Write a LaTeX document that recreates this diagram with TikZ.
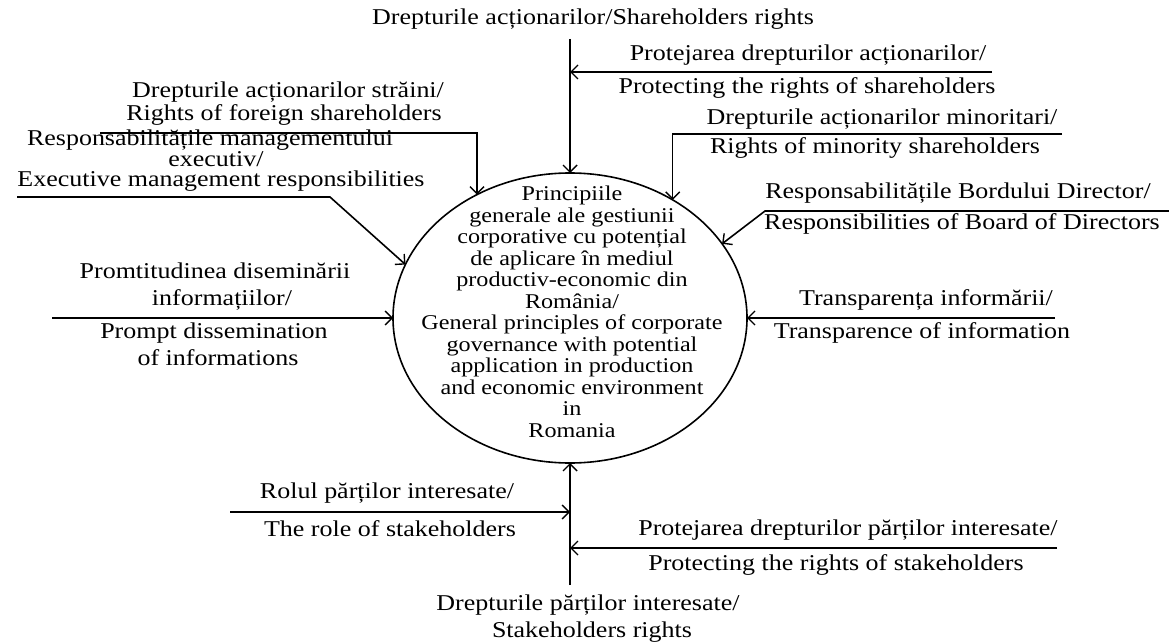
\documentclass[tikz,border=0pt]{standalone}
\usepackage{fontspec}
\setmainfont{Liberation Serif}[FakeStretch=1.15]
\usetikzlibrary{shapes.geometric,arrows.meta}
\begin{document}
\begin{tikzpicture}[x=1pt,y=-1pt,
  lbl/.style={font=\fontsize{22.6}{21}\selectfont, inner sep=0pt},
  ln/.style={line width=1.6pt},
  thk/.style={line width=2.6pt},
  arr/.style={-{Straight Barb[length=7pt,width=14pt,line width=1.4pt]}},
]
\useasboundingbox (0,0) rectangle (1169,644);

% central ellipse
\node[draw, ellipse, ln, minimum width=354pt, minimum height=290pt, inner sep=0pt, outer sep=0pt] (c) at (570,318) {};
\node[align=center, inner sep=0pt, font=\fontsize{21}{21.5}\selectfont] (ct) at (572,312) {Principiile\\generale ale gestiunii\\corporative  cu potențial\\de aplicare în mediul\\productiv-economic din\\România/\\General principles of corporate\\governance with potential\\application in production\\and economic environment\\in\\Romania};

% top
\node[lbl] (tt) at (593,19) {Drepturile acționarilor/Shareholders rights};
\coordinate (topS) at (570,39);
\draw[thk,arr] (topS) -- (c.north);

\node[lbl] (pa1) at (808,55) {Protejarea drepturilor acționarilor/};
\node[lbl] (pa2) at (807,88) {Protecting the rights of shareholders};
\coordinate (paS) at (992,72);
\draw[ln,arr] (paS) -- (paS -| c.north);

% foreign
\node[lbl] (f1) at (288,92) {Drepturile acționarilor străini/};
\node[lbl] (f2) at (284,115) {Rights of foreign shareholders};
\coordinate (fS) at (100,133);
\draw[ln,arr] (fS) -| (c.127);

% executive
\node[lbl, align=center, font=\fontsize{22.6}{20.5}\selectfont] (e1) at (216,161)
  {Responsabilitățile managementului\hspace*{12pt}\\executiv/\hspace*{56pt}\\\hspace*{10pt}Executive management responsibilities};
\coordinate (eS) at (17,197);
\coordinate (eB) at (330,197);
\draw[ln,arr] (eS) -- (eB) -- (c.162);

% prompt
\node[lbl] (p1) at (215,271) {Promtitudinea diseminării};
\node[lbl] (p2) at (222,300) {informațiilor/};
\node[lbl] (p3) at (214,333) {Prompt dissemination};
\node[lbl] (p4) at (218,358) {of informations};
\coordinate (pS) at (52,318);
\draw[thk,arr] (pS) -- (c.west);

% minority
\node[lbl] (m1) at (882,119) {Drepturile acționarilor minoritari/};
\node[lbl] (m2) at (875,148) {Rights of minority shareholders};
\coordinate (mS) at (1062,134);
\draw[ln,arr] (mS) -| (c.49);

% board
\node[lbl] (b1) at (958,193) {Responsabilitățile Bordului Director/};
\node[lbl] (b2) at (962,224) {Responsibilities of Board of Directors};
\coordinate (bS) at (1169,211);
\coordinate (bB) at (765,211);
\draw[ln,arr] (bS) -- (bB) -- (c.26);

% transparency
\node[lbl] (t1) at (926,300) {Transparența informării/};
\node[lbl] (t2) at (922,333) {Transparence of information};
\coordinate (tS) at (1055,318);
\draw[ln,arr] (tS) -- (c.east);

% role of stakeholders
\node[lbl] (r1) at (387,493) {Rolul părților interesate/};
\node[lbl] (r2) at (390,529) {The role of stakeholders};
\coordinate (rS) at (230,512);
\draw[ln,arr] (rS) -- (rS -| c.south);

% protecting stakeholders
\node[lbl] (ps1) at (848,530) {Protejarea drepturilor părților interesate/};
\node[lbl] (ps2) at (836,565) {Protecting the rights of stakeholders};
\coordinate (psS) at (1057,548);
\draw[ln,arr] (psS) -- (psS -| c.south);

% bottom
\node[lbl] (bt1) at (588,605) {Drepturile părților interesate/};
\node[lbl] (bt2) at (592,632) {Stakeholders rights};
\coordinate (botS) at (570,585);
\draw[ln,arr] (botS) -- (c.south);
\end{tikzpicture}
\end{document}
